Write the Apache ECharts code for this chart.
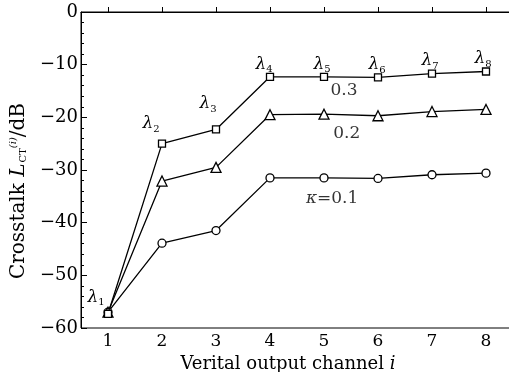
<!DOCTYPE html>
<html><head><meta charset="utf-8">
<script src="https://cdn.jsdelivr.net/npm/echarts@6/dist/echarts.min.js"></script>
<style>html,body{margin:0;padding:0;background:#fff}#c{width:509px;height:372px}</style>
</head><body><div id="c"></div>
<script>
const channels = [1, 2, 3, 4, 5, 6, 7, 8];
const k03 = [-57.3, -25.0, -22.3, -12.3, -12.3, -12.4, -11.7, -11.3];
const k02 = [-57.0, -32.1, -29.5, -19.5, -19.4, -19.7, -18.9, -18.5];
const k01 = [-57.0, -43.9, -41.5, -31.5, -31.5, -31.6, -30.9, -30.6];
const lambdaLabels = ['1','2','3','4','5','6','7','8'];
const notes = [
  {text: '0.3', x: 5.37, y: -14.9},
  {text: '0.2', x: 5.42, y: -23.0},
  {text: '{k|κ}=0.1', x: 5.15, y: -35.4}
];

const FONT = '"DejaVu Serif","Liberation Serif",serif';
const chart = echarts.init(document.getElementById('c'), null, {renderer: 'canvas'});
const lineStyle = {color: '#000', width: 1.3};
const itemStyle = {color: '#fff', borderColor: '#000', borderWidth: 1.3};
const lamOffsets = [[-12,3],[-11,0],[-8,-6],[-6,7],[-2,7],[-1,7],[-2,7],[-3,7]];

function mk(vals, sym, size, withLabels) {
  return {
    type: 'line', symbol: sym, symbolSize: size, showAllSymbol: true,
    lineStyle, itemStyle, z: 3,
    data: vals.map((v, i) => {
      const d = {value: [channels[i], v]};
      if (withLabels) {
        d.label = {show: true, position: 'top', offset: lamOffsets[i],
          formatter: '{l|λ}{s|' + lambdaLabels[i] + '}',
          rich: {
            l: {fontFamily: FONT, fontStyle: 'italic', fontSize: 17, color: '#000'},
            s: {fontFamily: FONT, fontSize: 10, color: '#000', padding: [11, 0, 0, 0]}
          }};
      }
      return d;
    })
  };
}

chart.setOption({
  animation: false,
  grid: {left: 81, top: 12, right: -4, bottom: 44, show: true, borderColor: '#000', borderWidth: 1,
    backgroundColor: 'transparent', containLabel: false, outerBoundsMode: 'none'},
  xAxis: {
    type: 'value', min: 0.5, max: 8.5,
    axisLine: {lineStyle: {color: '#000', width: 1}},
    axisTick: {inside: true, length: 5, lineStyle: {color: '#000'}, customValues: channels},
    axisLabel: {customValues: channels, color: '#000', fontFamily: FONT, fontSize: 17, margin: 5},
    splitLine: {show: false},
    name: 'Verital output channel {i|i}', nameLocation: 'middle', nameGap: 25,
    nameTextStyle: {color: '#000', fontFamily: FONT, fontSize: 18, padding: [0, 18, 0, 0],
      rich: {i: {fontFamily: FONT, fontStyle: 'italic', fontSize: 18, color: '#000'}}}
  },
  yAxis: {
    type: 'value', min: -60, max: 0, interval: 10,
    axisLine: {show: true, lineStyle: {color: '#000', width: 1}},
    axisTick: {show: true, inside: true, length: 6, lineStyle: {color: '#000'}},
    minorTick: {show: true, splitNumber: 5, length: 3, lineStyle: {color: '#000'}},
    axisLabel: {color: '#000', fontFamily: FONT, fontSize: 18, margin: 3,
      formatter: v => (v < 0 ? '\u2212' + Math.abs(v) : String(v))},
    splitLine: {show: false},
    name: 'Crosstalk {it|L}{sub|CT}{sup|(i)}/dB', nameLocation: 'middle', nameGap: 50, nameRotate: 90,
    nameTextStyle: {color: '#000', fontFamily: FONT, fontSize: 20, padding: [0, 42, 0, 0],
      rich: {
        it: {fontFamily: FONT, fontStyle: 'italic', fontSize: 20, color: '#000'},
        sub: {fontFamily: FONT, fontSize: 10, color: '#000', padding: [9, 0, 0, 1]},
        sup: {fontFamily: FONT, fontSize: 10, fontStyle: 'italic', color: '#000', padding: [0, 0, 11, 0]}
      }}
  },
  series: [
    mk(k01, 'circle', 8, false),
    mk(k02, 'triangle', 10, false),
    mk(k03, 'rect', 7, true),
    {
      type: 'scatter', symbolSize: 0, silent: true, z: 4,
      data: notes.map(n => ({value: [n.x, n.y], label: {show: true, position: 'inside', formatter: n.text}})),
      label: {color: '#000', fontFamily: FONT, fontSize: 17,
        rich: {k: {fontFamily: FONT, fontStyle: 'italic', fontSize: 17, color: '#000'}}}
    }
  ]
});
</script></body></html>
